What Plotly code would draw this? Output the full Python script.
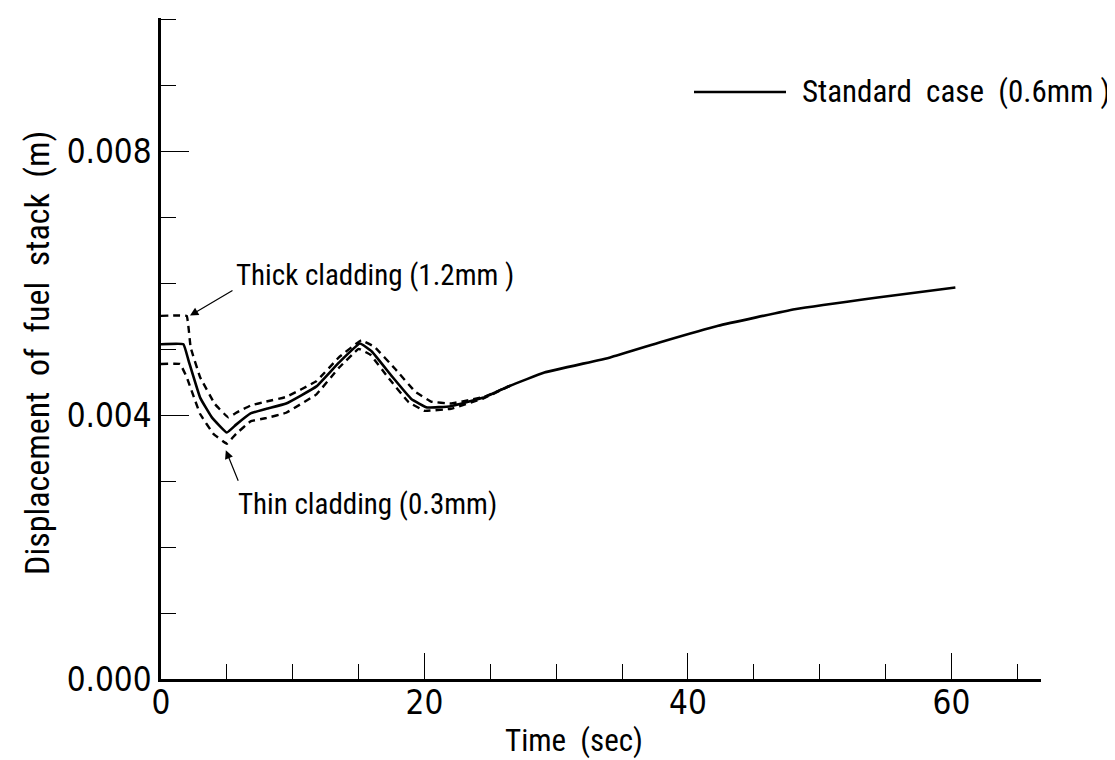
import plotly.graph_objects as go

# Standard case (0.6 mm)
std_t = [0, 1.7, 2.08, 2.97, 3.86, 5.0, 5.7, 6.8, 8.0, 9.5, 11.8, 13.5, 15.1, 16.0, 17.5, 19.0, 20.2,
         22.0, 24.5, 26.5, 29.1, 34.1, 37.9, 42.3, 48.1, 54.4, 60.3]
std_v = [0.00508, 0.00508, 0.00484, 0.00427, 0.00397, 0.00374, 0.00386, 0.00403, 0.00410, 0.00418,
         0.00444, 0.00480, 0.00509, 0.00497, 0.00460, 0.00425, 0.00412, 0.00414, 0.00427, 0.00445,
         0.00465, 0.00488, 0.00511, 0.00536, 0.00561, 0.00579, 0.00594]

# Thick cladding (1.2 mm)
thick_t = [0, 1.95, 2.25, 2.97, 4.1, 5.1, 5.8, 6.8, 8.0, 9.5, 11.8, 13.5, 15.2, 16.2, 17.8, 19.3, 20.5,
           22.0, 24.5, 26.5]
thick_v = [0.00551, 0.00551, 0.00503, 0.00458, 0.00417, 0.00397, 0.00405, 0.00415, 0.00421, 0.00428,
           0.00452, 0.00488, 0.00514, 0.00504, 0.00470, 0.00436, 0.00421, 0.00418, 0.00428, 0.00445]

# Thin cladding (0.3 mm)
thin_t = [0, 1.45, 1.95, 2.97, 3.98, 5.0, 5.7, 6.8, 8.0, 9.5, 11.8, 13.5, 15.0, 15.9, 17.3, 18.8, 20.0,
          22.0, 24.5, 26.5]
thin_v = [0.00478, 0.00478, 0.00458, 0.00402, 0.00372, 0.00357, 0.00372, 0.00391, 0.00396, 0.00404,
          0.00432, 0.00472, 0.00501, 0.00492, 0.00456, 0.00420, 0.00407, 0.00410, 0.00426, 0.00445]

x_tickvals = [0, 20, 40, 60]
x_ticktext = ["0", "20", "40", "60"]
y_tickvals = [0.0, 0.004, 0.008]
y_ticktext = ["0.000", "0.004", "0.008"]

TICKFONT = "DejaVu Sans Condensed, DejaVu Sans, sans-serif"
TEXTFONT = "Roboto Condensed, Open Sans Condensed, DejaVu Sans Condensed, sans-serif"

W, H = 1115, 760
L, R, T, B = 153, 82, 10, 89
PW, PH = W - L - R, H - T - B


def px(x):
    return (x - L) / PW


def py(y):
    return (H - B - y) / PH


fig = go.Figure()
fig.add_trace(go.Scatter(x=thick_t, y=thick_v, mode="lines", showlegend=False,
                         line=dict(color="black", width=2.4, dash="7px,5px", shape="spline", smoothing=0.2)))
fig.add_trace(go.Scatter(x=thin_t, y=thin_v, mode="lines", showlegend=False,
                         line=dict(color="black", width=2.4, dash="7px,5px", shape="spline", smoothing=0.2)))
fig.add_trace(go.Scatter(x=std_t, y=std_v, mode="lines", showlegend=False,
                         line=dict(color="black", width=2.6, shape="spline", smoothing=0.3)))

fig.update_layout(
    width=W, height=H,
    margin=dict(l=L, r=R, t=T, b=B),
    paper_bgcolor="white", plot_bgcolor="white",
    font=dict(family=TEXTFONT, color="black", size=31),
    xaxis=dict(range=[0, 66.8], showgrid=False, zeroline=False,
               showline=True, linecolor="black", linewidth=2.5,
               ticks="inside", tickvals=x_tickvals, ticktext=x_ticktext,
               ticklen=26, tickwidth=1.3, tickcolor="black", ticklabelstandoff=-7,
               minor=dict(dtick=5, tick0=0, ticks="inside", ticklen=15, tickwidth=1.3, tickcolor="black"),
               tickfont=dict(size=33, family=TICKFONT)),
    yaxis=dict(range=[0, 0.01003], showgrid=False, zeroline=False,
               showline=True, linecolor="black", linewidth=2.5,
               ticks="inside", tickvals=y_tickvals, ticktext=y_ticktext,
               ticklen=28, tickwidth=1.3, tickcolor="black",
               minor=dict(dtick=0.001, tick0=0, ticks="inside", ticklen=15, tickwidth=1.3, tickcolor="black"),
               tickfont=dict(size=33, family=TICKFONT)),
)

# axis titles as annotations for precise placement
fig.add_annotation(text="Time  (sec)", xref="paper", yref="paper", x=px(566), y=py(732),
                   xanchor="center", yanchor="middle", showarrow=False, font=dict(size=31))
fig.add_annotation(text="Displacement  of  fuel  stack  (m)", xref="paper", yref="paper",
                   x=px(29), y=py(345), textangle=-90, xanchor="center", yanchor="middle",
                   showarrow=False, font=dict(size=34))

# curve labels
fig.add_annotation(text="Thick cladding (1.2mm )", xref="paper", yref="paper", x=px(226), y=py(267),
                   xanchor="left", yanchor="middle", showarrow=False, font=dict(size=29))
fig.add_annotation(text="Thin cladding (0.3mm)", xref="paper", yref="paper", x=px(228), y=py(496),
                   xanchor="left", yanchor="middle", showarrow=False, font=dict(size=29))
# arrows
fig.add_annotation(text="", x=2.2, y=0.005515, ax=44, ay=-26, showarrow=True,
                   arrowhead=2, arrowsize=1.4, arrowwidth=1.2, arrowcolor="black")
fig.add_annotation(text="", x=4.92, y=0.00347, ax=13, ay=32, showarrow=True,
                   arrowhead=2, arrowsize=1.4, arrowwidth=1.2, arrowcolor="black")

# legend
fig.add_shape(type="line", xref="paper", yref="paper", x0=px(686), x1=px(778),
              y0=py(84), y1=py(84), line=dict(color="black", width=2.4))
fig.add_annotation(text="Standard  case  (0.6mm )", xref="paper", yref="paper",
                   x=px(792), y=py(84), xanchor="left", yanchor="middle",
                   showarrow=False, font=dict(size=31))

fig.write_html("out.html")
